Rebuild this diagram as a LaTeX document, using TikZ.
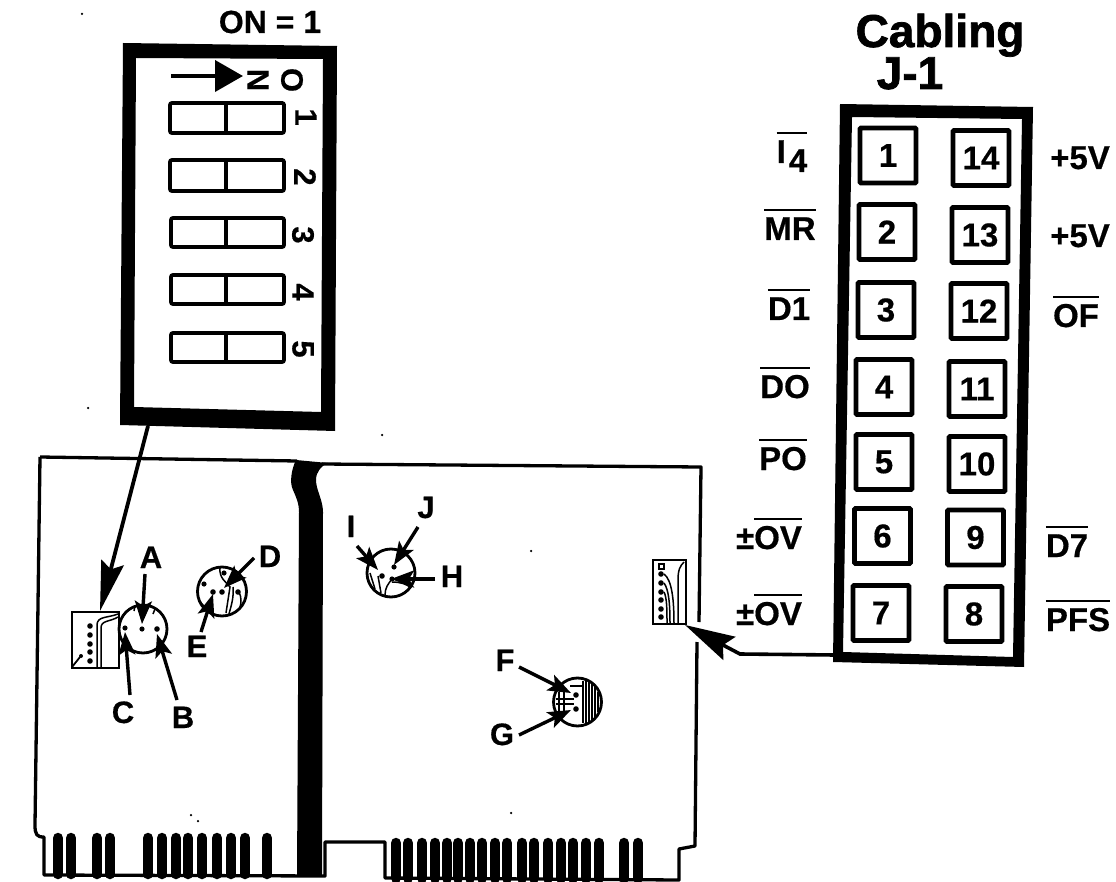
\documentclass[tikz,border=0pt]{standalone}
\usepackage{fontspec}
\setmainfont{Liberation Sans}
\newfontfamily\heavyf[FakeBold=1.6]{Liberation Sans Bold}
\newfontfamily\boldf[FakeBold=0.5]{Liberation Sans Bold}
\usetikzlibrary{arrows.meta}
\newcommand{\sz}[1]{\fontsize{#1}{#1}\selectfont}
\newcommand{\ovl}[1]{\leavevmode\vbox{\hrule height 2.4pt \kern 6pt \hbox{#1}}}
\tikzset{
  x=1pt,y=-1pt,
  bandcol/.style={fill=black,even odd rule},
  switchbox/.style={draw,line width=3.8pt,rounded corners=2pt},
  pinbox/.style={draw,line width=4.8pt,rounded corners=1pt,minimum width=56pt,minimum height=55pt,inner sep=0pt,font=\sz{33}\boldf},
  toplab/.style={anchor=base,inner sep=0pt,font=\sz{32}\boldf},
  sidelab/.style={anchor=base,inner sep=0pt,font=\sz{33}\boldf},
  letter/.style={anchor=base,inner sep=0pt,font=\sz{31}\boldf},
  dipdigit/.style={rotate=-90,inner sep=0pt,font=\sz{31}\boldf},
  title/.style={anchor=base,inner sep=0pt,font=\sz{46}\heavyf},
  edge/.style={line width=3.3pt,line join=round},
  finger/.style={line width=10.5pt,line cap=round},
  pointer/.style={line width=3.4pt,-{Stealth[length=23pt,width=17pt,inset=5pt]}},
  bigpointer/.style={line width=3.8pt,-{Stealth[length=50pt,width=23pt,inset=7pt]}},
  trace/.style={line width=1.5pt},
  pad/.style={draw,line width=2.8pt,circle,inner sep=0pt},
  chip/.style={draw,line width=2.8pt},
  speck/.style={circle,fill=black,inner sep=0pt,minimum size=2.5pt},
}
\begin{document}
\begin{tikzpicture}
\useasboundingbox (0,0) rectangle (1116,882);
% --- DIP switch panel
\fill[bandcol] (123,43) -- (337,46) -- (335,431) -- (120,425) -- cycle
               (136,58) -- (323,59) -- (321,412) -- (134,407) -- cycle;
\node[toplab] (onlabel) at (270,33) {ON = 1};
\coordinate (ontail) at (171,76);
\coordinate (onhead) at (243,76);
\draw[line width=4pt,-{Triangle[length=28pt,width=31pt]}] (ontail) -- (onhead);
\node[dipdigit] (swN) at (258,80) {N};
\node[dipdigit] (swO) at (292,80) {O};
\draw[switchbox] (170,103) rectangle (284,133);
\draw[switchbox] (226,103) -- (226,133);
\draw[switchbox] (170,160) rectangle (284,191);
\draw[switchbox] (226,160) -- (226,191);
\draw[switchbox] (171,218) rectangle (284,247);
\draw[switchbox] (226,218) -- (226,247);
\draw[switchbox] (171,275) rectangle (284,304);
\draw[switchbox] (226,275) -- (226,304);
\draw[switchbox] (171,333) rectangle (284,362);
\draw[switchbox] (226,333) -- (226,362);
\node[dipdigit] (d1) at (306,117) {1};
\node[dipdigit] (d2) at (305,177) {2};
\node[dipdigit] (d3) at (303,235) {3};
\node[dipdigit] (d4) at (303,292) {4};
\node[dipdigit] (d5) at (303,349) {5};
% --- Cabling panel
\node[title] (cab) at (940,47) {Cabling};
\node[title] (jone) at (910,89) {J-1};
\fill[bandcol] (840,104) -- (1033,107) -- (1024,667) -- (833,662) -- cycle
               (852,117) -- (1022,119) -- (1013,657) -- (843,652) -- cycle;
\node[pinbox] (p1) at (888,155.5) {1};
\node[pinbox] (p14) at (981,158) {14};
\node[pinbox] (p2) at (887,232) {2};
\node[pinbox] (p13) at (980,235) {13};
\node[pinbox] (p3) at (886,310) {3};
\node[pinbox] (p12) at (979,311) {12};
\node[pinbox] (p4) at (884,387) {4};
\node[pinbox] (p11) at (977,389) {11};
\node[pinbox] (p5) at (884,462) {5};
\node[pinbox] (p10) at (977,464) {10};
\node[pinbox] (p6) at (882.5,536) {6};
\node[pinbox] (p9) at (975.5,537.5) {9};
\node[pinbox] (p7) at (881,613) {7};
\node[pinbox] (p8) at (974,614) {8};
\node[sidelab] (l1) at (792,163) {\ovl{I\kern3pt\lower9pt\hbox{4}}};
\node[sidelab] (r14) at (1080,169) {+5V};
\node[sidelab] (l2) at (790,240) {\ovl{MR}};
\node[sidelab] (r13) at (1080,247) {+5V};
\node[sidelab] (l3) at (789,320) {\ovl{D1}};
\node[sidelab] (r12) at (1076,327) {\ovl{OF}};
\node[sidelab] (l4) at (785,398) {\ovl{DO}};
\node[sidelab] (l5) at (783,470) {\ovl{PO}};
\node[sidelab] (l6) at (769,549) {±\ovl{OV}};
\node[sidelab] (r9) at (1067,557) {\ovl{D7}};
\node[sidelab] (l7) at (769,625) {±\ovl{OV}};
\node[sidelab] (r8) at (1078,631) {\ovl{PFS}};
% --- Board outline
\draw[edge] (40,457) -- (297,461);
\draw[edge] (40,457) -- (35,825) .. controls (35,835) and (37,837) .. (44,837) -- (44,875) -- (325,876) -- (325,842) -- (385,842) -- (385,878) -- (679,880) -- (679,849) -- (695,846) -- (697,642);
\draw[edge] (699,622) -- (701,467) -- (322,464);
\fill (296,460) .. controls (292,468) and (289,482) .. (293,490) .. controls (296,497) and (299,503) .. (299,512) -- (297,876) -- (322,877) -- (323,512) .. controls (323,500) and (316,490) .. (316,480) .. controls (316,472) and (321,466) .. (328,463) -- cycle;
\foreach \fx in {58,71,97,110,148,162,176,188,202,217,231,245,267}
  \draw[finger] (\fx,838) -- (\fx,874);
\foreach \fx in {396,408,422,435,447,458,470,482,495,507,522,534,548,561,573,586,599,624,638}
  \draw[finger] (\fx,843) -- (\fx,878);
% --- Left connector chip
\node[chip,minimum width=47pt,minimum height=56pt,inner sep=0pt] (chipL) at (95.5,640) {};
\foreach \dy in {626,635,644,652,661}
  \fill (90,\dy) circle (2.8pt);
\draw[trace] (97,668) -- (97,625) .. controls (97,616) and (108,618) .. (118,614);
\draw[trace] (101,668) -- (101,628) .. controls (101,620) and (110,622) .. (118,617);
\draw[line width=1.8pt] (72,667) -- (80,657);
\fill (81,656) circle (2pt);
\coordinate (dipBottom) at (148,426);
\coordinate (chipTip) at (100,611);
\draw[bigpointer] (dipBottom) -- (chipTip);
% --- Right connector chip
\node[chip,minimum width=33pt,minimum height=64pt,inner sep=0pt] (chipR) at (669.5,592) {};
\draw[line width=1.3pt] (659,564) rectangle (664,569);
\foreach \dy in {574,583,592,600,609,617}
  \fill (661,\dy) circle (2.8pt);
\draw[trace] (664,574) .. controls (672,580) and (674,600) .. (674,624);
\draw[trace] (664,583) .. controls (669,590) and (670,605) .. (670,624);
\draw[trace] (664,592) .. controls (667,598) and (667,610) .. (667,624);
\draw[trace] (678,624) -- (678,580) .. controls (678,570) and (680,566) .. (684,562);
\coordinate (bend) at (740,654);
\coordinate (chipRTip) at (685,625);
\draw[line width=3.6pt,-{Stealth[length=50pt,width=26pt,inset=7pt]}] (835,655) -- (bend) -- (chipRTip);
% --- Probe circle A,B,C
\node[pad,minimum size=48pt] (cA) at (143,629) {};
\draw[trace] (135,606) -- (134,611);
\draw[trace] (155,609) -- (153,614);
\coordinate (dotA) at (142,629); \coordinate (dotB) at (157,629); \coordinate (dotC) at (125,628);
\fill (dotA) circle (2.6pt) (dotB) circle (2.8pt) (dotC) circle (2.6pt);
\node[letter] (labA) at (151,568) {A};
\node[letter] (labB) at (183,728) {B};
\node[letter] (labC) at (123,723) {C};
\coordinate (tailA) at (145,574); \coordinate (tipA) at (142,624);
\coordinate (tailB) at (177,700); \coordinate (tipB) at (157,634);
\coordinate (tailC) at (130,695); \coordinate (tipC) at (125,632);
\draw[pointer] (tailA) -- (tipA);
\draw[pointer] (tailB) -- (tipB);
\draw[pointer] (tailC) -- (tipC);
% --- Probe circle D,E
\node[pad,minimum size=49pt] (cD) at (222,591.5) {};
\fill (204,584) circle (2.6pt) (213,592) circle (2.8pt) (222,592) circle (2.8pt) (238,592) circle (2.8pt) (224,573) circle (2.6pt);
\draw[trace] (220,568) .. controls (219,578) and (226,582) .. (230,587) -- (226,613);
\draw[trace] (233,587) .. controls (234,598) and (231,606) .. (229,614);
\draw[trace] (239,592) .. controls (242,598) and (241,604) .. (240,607);
\draw[trace] (199,600) .. controls (203,606) and (206,608) .. (209,610);
\node[letter] (labD) at (270,567) {D};
\node[letter] (labE) at (197,657) {E};
\coordinate (tailD) at (254,558); \coordinate (tipD) at (224,588);
\coordinate (tailE) at (201,632); \coordinate (tipE) at (213,594);
\draw[pointer] (tailD) -- (tipD);
\draw[pointer] (tailE) -- (tipE);
% --- Probe circle H,I,J
\node[pad,minimum size=48pt] (cH) at (391,573) {};
\fill (394,567) circle (2.6pt) (382,576) circle (2.8pt) (392,579) circle (2.6pt);
\draw[trace] (370,573) -- (375,589);
\draw[trace] (378,576) -- (381,593);
\draw[trace] (392,579) .. controls (388,584) and (385,588) .. (385,595);
\draw[trace] (392,582) .. controls (400,582) and (407,584) .. (411,588);
\node[letter] (labI) at (351,537) {I};
\node[letter] (labJ) at (426,518) {J};
\node[letter] (labH) at (452,587) {H};
\coordinate (tailI) at (357,546); \coordinate (tipI) at (378,570);
\coordinate (tailJ) at (418,527); \coordinate (tipJ) at (394,565);
\coordinate (tailH) at (435,579); \coordinate (tipH) at (391,579);
\draw[pointer] (tailI) -- (tipI);
\draw[pointer] (tailJ) -- (tipJ);
\draw[pointer] (tailH) -- (tipH);
% --- Probe circle F,G
\node[pad,minimum size=48pt] (cF) at (577.5,702) {};
\fill (576,695) circle (2.8pt) (576,709) circle (2.8pt);
\foreach \hx/\hy in {583/681,586/680,589/681,592/683,595/686,598/692}
  \draw[trace] (\hx,\hy) -- (\hx,{1404-\hy});
\draw[trace] (556,699) -- (574,699);
\draw[trace] (556,704) -- (574,704);
\draw[trace] (559,692) -- (559,712);
\draw[trace] (564,690) -- (564,714);
\draw[trace] (570,686) -- (584,686);
\node[letter] (labF) at (505,671) {F};
\node[letter] (labG) at (502,745) {G};
\coordinate (tailF) at (519,667); \coordinate (tipF) at (571,693);
\coordinate (tailG) at (519,735); \coordinate (tipG) at (571,710);
\draw[pointer] (tailF) -- (tipF);
\draw[pointer] (tailG) -- (tipG);
% --- Print specks
\node[speck] (s1) at (191,815) {};
\node[speck] (s2) at (198,821) {};
\node[speck] (s3) at (382,435) {};
\node[speck] (s4) at (511,813) {};
\node[speck] (s5) at (531,551) {};
\node[speck] (s6) at (82,14) {};
\node[speck] (s7) at (88,408) {};
\end{tikzpicture}
\end{document}
